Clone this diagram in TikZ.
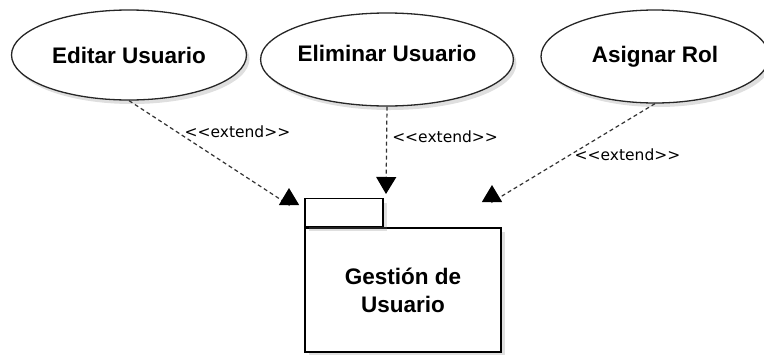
\documentclass[tikz,border=0pt]{standalone}
\usepackage{fontspec}
\newfontfamily\boxfont{Liberation Sans}
\newfontfamily\tagfont{DejaVu Sans}
\usepackage{tikz}
\usetikzlibrary{positioning}
\usetikzlibrary{shapes,shapes.geometric,arrows.meta,shadows}
\tikzstyle{usecase} = [ellipse, draw=black!85, line width=1.3pt, fill=white, text centered, inner sep=0pt, font=\boxfont\bfseries\fontsize{22.5}{27}\selectfont, drop shadow={shadow xshift=3pt, shadow yshift=-4pt, opacity=0.25}]
\tikzstyle{package} = [rectangle, draw, line width=1.5pt, fill=white, inner sep=0pt, drop shadow={shadow xshift=4pt, shadow yshift=-4pt, opacity=0.25}]
\tikzstyle{extend} = [draw, dashed, dash pattern=on 4pt off 3pt, line width=1.2pt, draw=black!80, -{Triangle[width=20pt,length=17pt,color=black]}]
\tikzstyle{stereo} = [draw=none, fill=none, anchor=west, inner sep=3pt, font=\tagfont\fontsize{15.5}{18}\selectfont]

\begin{document}
\begin{tikzpicture}[x=1pt, y=-1pt, auto]
	\useasboundingbox (0,0) rectangle (764,354);

	% use cases
	\node [usecase, minimum width=235pt, minimum height=90pt] (edit)  at (129,55)   {Editar Usuario};
	\node [usecase, minimum width=233pt, minimum height=93pt, text depth=12pt] (elim)  at (387,59.5) {Eliminar Usuario};
	\node [usecase, minimum width=228pt, minimum height=93pt] (asign) at (655,56.5) {Asignar Rol};

	% package
	\node [package, minimum width=196pt, minimum height=124pt, align=center, font=\boxfont\bfseries\fontsize{22.5}{28}\selectfont] (pkg) at (403,290) {Gesti\'on de\\Usuario};
	\node [package, minimum width=78pt, minimum height=28pt, anchor=south west] (pkgtab) at (pkg.north west) {};

	% arrow ends
	\coordinate (k1) at (289,205);
	\coordinate (t1) at (289,188);
	\coordinate (t2) at (386,194);
	\coordinate (k3) at (492,202);
	\coordinate (t3) at (492,185);

	% draw edges
	\path [extend] (edit.south) -- (k1) node [stereo, pos=0.3, xshift=4pt] (lbl1) {<<extend>>} -- (t1);
	\path [extend] (elim.south) -- (t2) node [stereo, pos=0.345, xshift=2pt] (lbl2) {<<extend>>};
	\path [extend] (asign.south) -- (k3) node [stereo, pos=0.515] (lbl3) {<<extend>>} -- (t3);
\end{tikzpicture}
\end{document}
